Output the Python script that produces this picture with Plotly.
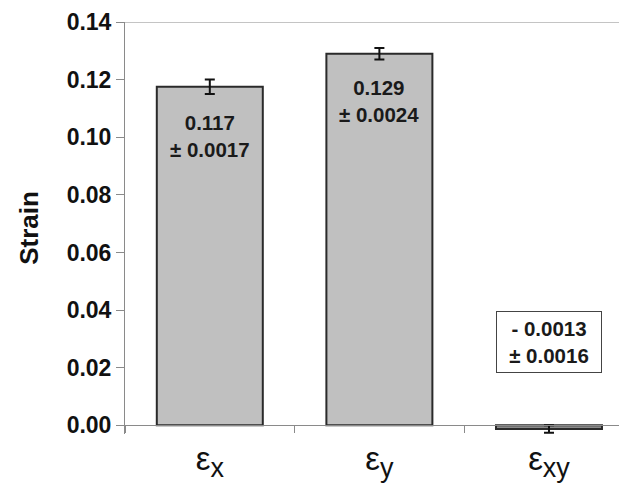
import plotly.graph_objects as go

sub = "<sub><span style='font-size:27px'>{}</span></sub>"
categories = ["ε" + sub.format("x"), "ε" + sub.format("y"), "ε" + sub.format("xy")]
strain = [0.1175, 0.129, -0.0013]
err_drawn = [0.0025, 0.0020, 0.0013]
mean_labels = ["0.117", "0.129", "- 0.0013"]
sd_labels = ["± 0.0017", "± 0.0024", "± 0.0016"]
label_y = [0.1005, 0.1125, 0.0291]
fills = ["#c0c0c0", "#c0c0c0", "#8a8a8a"]
y_ticks = [0.00, 0.02, 0.04, 0.06, 0.08, 0.10, 0.12, 0.14]

FONT = "Arial, 'Liberation Sans', sans-serif"

fig = go.Figure()
fig.add_trace(go.Bar(
    x=categories, y=strain, width=0.625,
    marker=dict(color=fills, line=dict(color="#2a2a2a", width=2)),
    error_y=dict(type="data", array=err_drawn, visible=True,
                 color="#111111", thickness=2, width=5),
    showlegend=False,
))

for i, (m, s, yy) in enumerate(zip(mean_labels, sd_labels, label_y)):
    boxed = strain[i] < 0
    fig.add_annotation(
        x=categories[i], y=yy, xref="x", yref="y",
        text=f"<b>{m}</b><br><b>{s}</b>", showarrow=False,
        font=dict(family=FONT, size=20.5, color="#1a1a1a"),
        bordercolor="#444444" if boxed else "rgba(0,0,0,0)",
        borderwidth=1 if boxed else 0, borderpad=5 if boxed else 0,
        bgcolor="white" if boxed else "rgba(0,0,0,0)",
        width=94 if boxed else None,
    )

# top border line at 0.14
fig.add_shape(type="line", xref="paper", yref="y", x0=-0.016, x1=1,
              y0=0.14, y1=0.14, line=dict(color="#8a8a8a", width=1))

ymin = -0.003
# page body has an 8px margin; compensate so the plot lands where intended
fig.update_layout(
    width=619, height=478,
    margin=dict(l=117, r=0, t=14, b=52),
    plot_bgcolor="white", paper_bgcolor="white",
    font=dict(family=FONT, color="#111111"),
    bargap=0.3,
)
fig.update_yaxes(
    range=[ymin, 0.14], tickvals=y_ticks, automargin=False,
    ticktext=[f"{v:.2f}" for v in y_ticks],
    tickfont=dict(family=FONT, size=23, color="#111111", weight="bold"),
    showgrid=False, zeroline=False,
    showline=True, linecolor="#8a8a8a", linewidth=1,
    ticks="outside", ticklen=8, tickcolor="#8a8a8a",
    title=dict(text="<b>Strain</b>", font=dict(family=FONT, size=26, color="#111111"),
               standoff=20),
)
fig.update_xaxes(
    type="category", range=[-0.5, 2.46], automargin=False,
    anchor="free", position=(0 - ymin) / (0.14 - ymin),
    showline=True, linecolor="#8a8a8a", linewidth=1,
    ticks="outside", tickson="boundaries", ticklen=7, tickcolor="#8a8a8a",
    tickfont=dict(family=FONT, size=33, color="#111111"),
    ticklabelstandoff=4,
    showgrid=False,
)

fig.write_html("out.html")
